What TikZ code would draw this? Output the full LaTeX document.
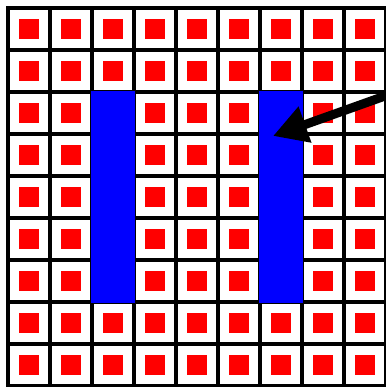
\documentclass[tikz,border=0pt]{standalone}
\usepackage{tikz}
\usetikzlibrary{arrows.meta}
\tikzset{
  cellsq/.style={
    fill=red
  },
  gridline/.style={
    draw=black,
    line width=4pt,
    line cap=rect
  },
  barbox/.style={
    fill=blue
  },
  pointer/.style={
    -{Triangle[length=34pt,width=36pt]},
    line width=9pt
  }
}

\begin{document}
\begin{tikzpicture}[x=1pt,y=-1pt]
  \useasboundingbox[fill=white] (0,0) rectangle (385,387);

  % red squares, one per cell
  \foreach \i in {0,...,8}{
    \foreach \j in {0,...,8}{
      \fill[cellsq] (19+42*\i,19+42*\j) rectangle ++(20,20);
    }
  }

  % grid
  \foreach \k in {0,...,9}{
    \draw[gridline] (8+42*\k,8) -- (8+42*\k,386);
    \draw[gridline] (8,8+42*\k) -- (386,8+42*\k);
  }

  % the two bars
  \fill[barbox] (91,91) rectangle (135,303);
  \fill[barbox] (259,91) rectangle (303,303);

  \coordinate (tail) at (392,93.5);
  \coordinate (tip) at (273,136);
  \draw[pointer] (tail) -- (tip);
\end{tikzpicture}
\end{document}
